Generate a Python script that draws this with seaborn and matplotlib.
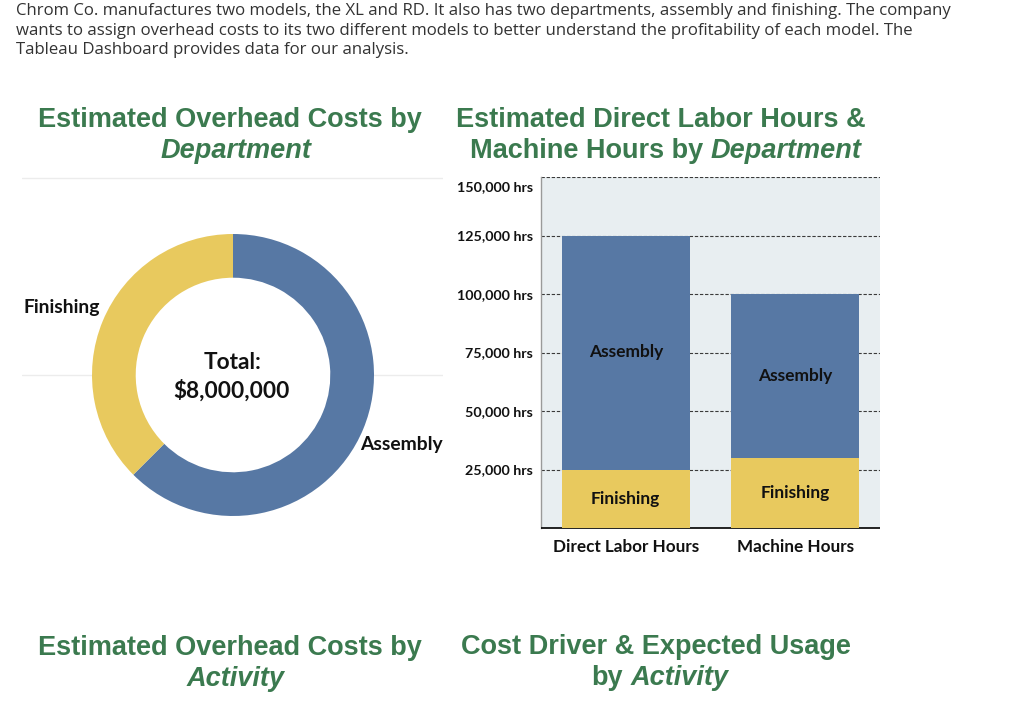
import numpy as np
import pandas as pd
import matplotlib
matplotlib.use("Agg")
import matplotlib.pyplot as plt
import matplotlib.transforms as mtransforms
import seaborn as sns

# ---------------- data ----------------
intro_lines = [
    "Chrom Co. manufactures two models, the XL and RD. It also has two departments, assembly and finishing. The company",
    "wants to assign overhead costs to its two different models to better understand the profitability of each model. The",
    "Tableau Dashboard provides data for our analysis.",
]
departments = ["Assembly", "Finishing"]
overhead_costs = [5000000, 3000000]
total_label = ["Total:", "$8,000,000"]

hour_types = ["Direct Labor Hours", "Machine Hours"]
finishing_hours = [25000, 30000]
assembly_hours = [100000, 70000]
ytick_values = [25000, 50000, 75000, 100000, 125000, 150000]
ytick_labels = ["25,000 hrs", "50,000 hrs", "75,000 hrs", "100,000 hrs", "125,000 hrs", "150,000 hrs"]

BLUE = "#5778a4"
YELLOW = "#e8c95e"
GREEN = "#3b7a4f"
BG = "#e8eef1"

sns.set_theme(style="white")
plt.rcParams["font.family"] = ["Lato", "DejaVu Sans"]

W, H = 1024, 702
fig = plt.figure(figsize=(W / 100, H / 100), dpi=100)
fig.patch.set_facecolor("white")

def fx(px):
    return px / W

def fy(py):
    return 1 - py / H

# ---------------- intro paragraph ----------------
for i, line in enumerate(intro_lines):
    fig.text(fx(16), fy(11 + i * 19.7), line, ha="left", va="center",
             fontsize=12.1, color="#333333", family=["Open Sans", "DejaVu Sans"])

# ---------------- titles ----------------
TFAM = ["Liberation Sans", "DejaVu Sans"]
TSIZE = 19.5
renderer = fig.canvas.get_renderer()

def title_line(parts, cx, cy):
    texts = []
    for s, st in parts:
        t = fig.text(0, fy(cy), s, ha="left", va="center", fontsize=TSIZE,
                     fontweight="bold", style=st, color=GREEN, family=TFAM)
        texts.append(t)
    widths = [t.get_window_extent(renderer).width for t in texts]
    gap = TSIZE * 100 / 72 * 0.28
    total = sum(widths) + gap * (len(texts) - 1)
    x = cx - total / 2
    for t, w in zip(texts, widths):
        t.set_x(fx(x))
        x += w + gap

title_line([("Estimated Overhead Costs by", "normal")], 230, 120)
title_line([("Department", "italic")], 236, 151)
title_line([("Estimated Direct Labor Hours &", "normal")], 661, 120)
title_line([("Machine Hours by", "normal"), ("Department", "italic")], 666, 151)
title_line([("Estimated Overhead Costs by", "normal")], 230, 648)
title_line([("Activity", "italic")], 236, 679)
title_line([("Cost Driver & Expected Usage", "normal")], 656, 647)
title_line([("by", "normal"), ("Activity", "italic")], 660, 678)

# ---------------- donut ----------------
R = 141.0
cxp, cyp = 233, 375
left_px, right_px, top_px = 22, 443, 177
half_h = cyp - top_px
axd = fig.add_axes([fx(left_px), fy(cyp + half_h), (right_px - left_px) / W, 2 * half_h / H])
axd.pie(overhead_costs, colors=[BLUE, YELLOW], startangle=90, counterclock=False,
        radius=1.0, wedgeprops=dict(width=0.31, edgecolor="none", linewidth=0))
axd.set_xlim((left_px - cxp) / R, (right_px - cxp) / R)
axd.set_ylim(-half_h / R, half_h / R)
axd.set_aspect("auto")
axd.axhline(half_h / R - 0.004, color="#ececec", lw=1.0, zorder=0)
axd.axhline(0, color="#ececec", lw=1.0, zorder=0)
axd.add_patch(plt.Circle((0, 0), 0.69, color="white", zorder=0.5))
axd.set_axis_off()

# labels at wedge mid-angles
total_cost = sum(overhead_costs)
start = 90.0
for name, val in zip(departments, overhead_costs):
    sweep = 360.0 * val / total_cost
    mid = np.deg2rad(start - sweep / 2)
    start -= sweep
    x, y = np.cos(mid), np.sin(mid)
    if x < 0:
        axd.text(1.02 * x, 1.02 * y + 0.085, name, ha="right", va="center",
                 fontsize=13.9, fontweight="bold", color="#111111")
    else:
        axd.text(0.975 * x, 0.975 * y - 0.117, name, ha="left", va="center",
                 fontsize=13.9, fontweight="bold", color="#111111")

axd.text(0, 0.09, total_label[0], ha="center", va="center", fontsize=16.3,
         fontweight="bold", color="#111111")
axd.text(-0.01, -0.107, total_label[1], ha="center", va="center", fontsize=16.3,
         fontweight="bold", color="#111111")

# ---------------- stacked bar chart ----------------
axb = fig.add_axes([fx(541), fy(528), (880 - 541) / W, (528 - 177) / H])
axb.set_facecolor(BG)
df = pd.DataFrame({"type": hour_types,
                   "finishing": finishing_hours,
                   "assembly": assembly_hours})
df["total"] = df["finishing"] + df["assembly"]
sns.barplot(data=df, x="type", y="total", color=BLUE, saturation=1, width=0.755,
            errorbar=None, ax=axb, zorder=3, edgecolor="none", linewidth=0)
sns.barplot(data=df, x="type", y="finishing", color=YELLOW, saturation=1, width=0.755,
            errorbar=None, ax=axb, zorder=3, edgecolor="none", linewidth=0)
axb.set_ylim(0, 150000)
axb.set_xlim(-0.5, 1.5)
axb.set_yticks(ytick_values)
axb.set_yticklabels(ytick_labels)
axb.set_xlabel("")
axb.set_ylabel("")
axb.set_axisbelow(True)
axb.yaxis.grid(True, linestyle=(0, (3, 1.6)), color="#3a3a3a", lw=0.8, zorder=0)
axb.xaxis.grid(False)
for s in ["top", "right"]:
    axb.spines[s].set_visible(False)
axb.spines["left"].set_color("#9a9a9a")
axb.spines["left"].set_linewidth(1.0)
axb.spines["bottom"].set_color("#111111")
axb.spines["bottom"].set_linewidth(1.3)
axb.spines["bottom"].set_capstyle("butt")
axb.tick_params(axis="y", length=0, pad=6, labelsize=10.3, labelcolor="#111111")
axb.tick_params(axis="x", length=0, pad=8, labelsize=12.3, labelcolor="#111111")
for lab in axb.get_yticklabels():
    lab.set_fontweight("bold")
for lab in axb.get_xticklabels():
    lab.set_fontweight("bold")
top_lab = axb.get_yticklabels()[-1]
top_lab.set_va("top")
top_lab.set_transform(top_lab.get_transform() +
                      mtransforms.ScaledTranslation(0, -0.04, fig.dpi_scale_trans))

for i, row in df.iterrows():
    axb.text(i, row["finishing"] / 2, "Finishing", ha="center", va="center",
             fontsize=12.5, fontweight="bold", color="#111111", zorder=5)
    axb.text(i, row["finishing"] + row["assembly"] / 2, "Assembly", ha="center",
             va="center", fontsize=12.5, fontweight="bold", color="#111111", zorder=5)

fig.savefig("out.png", dpi=100, facecolor="white")
